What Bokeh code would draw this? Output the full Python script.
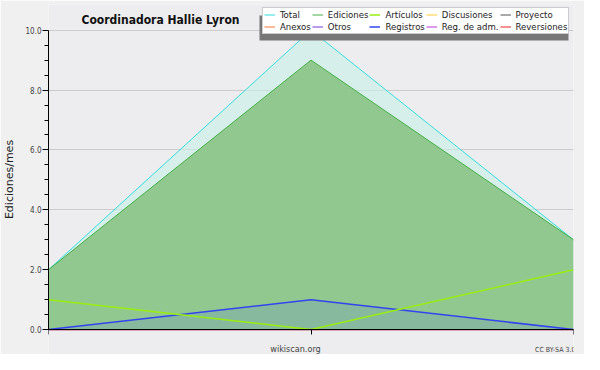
from bokeh.plotting import figure
from bokeh.models import (Range1d, FixedTicker, PrintfTickFormatter,
                          Label, Legend, LegendItem, BoxAnnotation)
from bokeh.embed import file_html
from bokeh.resources import INLINE

# ---- data ----
x = [0, 1, 2]
total = [2, 10, 3]
ediciones = [2, 9, 3]
articulos = [1, 0, 2]
discusiones = [0, 0, 0]
proyecto = [0, 0, 0]
anexos = [0, 0, 0]
otros = [0, 0, 0]
registros = [0, 1, 0]
reg_adm = [0, 0, 0]
reversiones = [0, 0, 0]
zeros = [0, 0, 0]

y_ticks = [0, 2, 4, 6, 8, 10]
y_minor = [0.5, 1, 1.5, 2.5, 3, 3.5, 4.5, 5, 5.5, 6.5, 7, 7.5, 8.5, 9, 9.5]

title_text = "Coordinadora Hallie Lyron"
ylabel_text = "Ediciones/mes"
source_text = "wikiscan.org"
license_text = "CC BY-SA 3.0"

FONT = "DejaVu Sans Condensed"

W, H = 584, 354
L, R, T, B = 45, 11, 4, 0
Y0_PX, Y10_PX = 329.1, 29.7           # canvas pixels of y=0 and y=10
ppu = (Y0_PX - Y10_PX) / 10.0
y_end = 10 + (Y10_PX - T) / ppu
y_start = -(H - B - Y0_PX) / ppu

p = figure(width=W, height=H, output_backend="svg", toolbar_location=None,
           x_range=Range1d(0, 2), y_range=Range1d(y_start, y_end),
           x_axis_location="above")
p.min_border_left = L
p.min_border_right = R
p.min_border_top = T
p.min_border_bottom = B
p.background_fill_color = "#ededef"
p.border_fill_color = "#f0f0f0"
p.outline_line_color = None

# y axis
p.yaxis.ticker = FixedTicker(ticks=y_ticks, minor_ticks=y_minor)
p.yaxis.bounds = (0, 10)
p.yaxis.formatter = PrintfTickFormatter(format="%.1f")
p.yaxis.major_tick_out = 6
p.yaxis.major_tick_in = 0
p.yaxis.minor_tick_out = 4
p.yaxis.minor_tick_in = 0
p.yaxis.major_label_standoff = 1
p.yaxis.major_label_text_font = FONT
p.yaxis.major_label_text_font_size = "8px"
p.yaxis.major_label_text_color = "#444444"
p.yaxis.axis_label = ylabel_text
p.yaxis.axis_label_text_font = "DejaVu Sans"
p.yaxis.axis_label_text_font_size = "11px"
p.yaxis.axis_label_text_font_style = "normal"
p.yaxis.axis_label_text_color = "#222222"
p.yaxis.axis_label_standoff = 6

# x axis drawn at y = 0, ticks pointing down
p.xaxis.fixed_location = 0
p.xaxis.ticker = FixedTicker(ticks=x)
p.xaxis.major_label_text_font_size = "0px"
p.xaxis.major_label_standoff = 0
p.xaxis.major_tick_out = 0
p.xaxis.major_tick_in = 5
for ax in (p.xaxis, p.yaxis):
    ax.axis_line_color = "black"
    ax.major_tick_line_color = "black"
    ax.minor_tick_line_color = "black"
p.xgrid.grid_line_color = None
p.ygrid.grid_line_color = "#cccccc"

# series
p.varea(x=x, y1=zeros, y2=total, fill_color="#c8f0e6", fill_alpha=0.6)
r_zero = {}
for name, vals, col in [("Discusiones", discusiones, "#ffcc33"), ("Proyecto", proyecto, "#555555"),
                        ("Anexos", anexos, "#ff7733"), ("Otros", otros, "#7733dd"),
                        ("Reg. de adm.", reg_adm, "#bb33dd"), ("Reversiones", reversiones, "#ee2222")]:
    r_zero[name] = p.line(x, vals, line_color=col, line_width=1)
r_total = p.line(x, total, line_color="#33dddd", line_width=1)
p.varea(x=x, y1=zeros, y2=ediciones, fill_color="#90c890", fill_alpha=1.0)
r_edic = p.line(x, ediciones, line_color="#44b044", line_width=1)
p.varea(x=x, y1=zeros, y2=registros, fill_color="#4455ff", fill_alpha=0.13)
r_reg = p.line(x, registros, line_color="#3344ee", line_width=1.5)
r_art = p.line(x, articulos, line_color="#99ee11", line_width=1.5)

FB = H - B  # frame bottom in canvas px
LEG_L, LEG_R, LEG_T, LEG_B = 259, 568, 9, 34

# legend shadow
p.add_layout(BoxAnnotation(left=LEG_L - 3 - L, right=LEG_R - 3 - L, top=FB - LEG_T - 6,
                           bottom=FB - LEG_B - 6,
                           left_units="screen", right_units="screen", top_units="screen",
                           bottom_units="screen", fill_color="#777777", fill_alpha=1.0,
                           line_color=None))

items = [
    LegendItem(label="Total", renderers=[r_total]),
    LegendItem(label="Ediciones", renderers=[r_edic]),
    LegendItem(label="Artículos", renderers=[r_art]),
    LegendItem(label="Discusiones", renderers=[r_zero["Discusiones"]]),
    LegendItem(label="Proyecto", renderers=[r_zero["Proyecto"]]),
    LegendItem(label="Anexos", renderers=[r_zero["Anexos"]]),
    LegendItem(label="Otros", renderers=[r_zero["Otros"]]),
    LegendItem(label="Registros", renderers=[r_reg]),
    LegendItem(label="Reg. de adm.", renderers=[r_zero["Reg. de adm."]]),
    LegendItem(label="Reversiones", renderers=[r_zero["Reversiones"]]),
]
legend = Legend(items=items, location=(LEG_L - L, FB - LEG_B), orientation="horizontal",
                ncols=5, padding=1, spacing=1, margin=0, label_standoff=5,
                glyph_width=11, glyph_height=9, label_height=9,
                label_text_font=FONT, label_text_font_size="9.5px", label_text_color="#222222",
                background_fill_color="white", background_fill_alpha=1.0,
                border_line_color="#999999", border_line_width=1)
p.add_layout(legend)

# texts
p.add_layout(Label(x=157 - L, y=FB - 19, x_units="screen", y_units="screen", text=title_text,
                   text_font=FONT, text_font_style="bold", text_font_size="12px",
                   text_align="center", text_baseline="alphabetic", text_color="#111111"))
p.add_layout(Label(x=292 - L, y=FB - 348.6, x_units="screen", y_units="screen", text=source_text,
                   text_font=FONT, text_font_size="9px", text_align="center",
                   text_baseline="alphabetic", text_color="#444444"))
p.add_layout(Label(x=572 - L, y=FB - 349.2, x_units="screen", y_units="screen", text=license_text,
                   text_font=FONT, text_font_size="7px", text_align="right",
                   text_baseline="alphabetic", text_color="#444444"))

open("out.html", "w").write(file_html(p, INLINE))
